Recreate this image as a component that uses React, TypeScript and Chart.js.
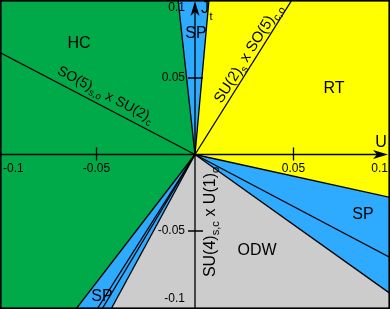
import React, { useEffect, useRef } from 'react';
import { Chart, registerables } from 'chart.js';

Chart.register(...registerables);

// axis ranges
const X_MIN = -0.099;
const X_MAX = 0.099;
const Y_MIN = -0.101;
const Y_MAX = 0.101;

// phase boundaries: rays from the origin, end points on the frame
const rayNames = ['hcLine', 'topGB', 'topBY', 'su2Line', 'rightYB', 'rightMid', 'rightBG', 'botBG', 'botIn2', 'botIn1', 'botGB'];
const rayEndX = [-0.099, -0.0086, 0.0071, 0.0492, 0.099, 0.099, 0.099, -0.0426, -0.0472, -0.0497, -0.0604];
const rayEndY = [0.0667, 0.101, 0.101, 0.101, -0.0281, -0.0673, -0.0908, -0.101, -0.101, -0.101, -0.101];

// tick values and labels
const xTickValues = [-0.1, -0.05, 0.05, 0.1];
const xTickLabels = ['-0.1', '-0.05', '0.05', '0.1'];
const yTickValues = [0.1, 0.05, -0.05, -0.1];
const yTickLabels = ['0.1', '0.05', '-0.05', '-0.1'];

// phase names and their anchor points (data coords)
const phaseNames = ['HC', 'SP', 'RT', 'SP', 'ODW', 'SP'];
const phaseX = [-0.0589, 0.0005, 0.0706, 0.0853, 0.0315, -0.0472];
const phaseY = [0.0722, 0.0788, 0.0428, -0.0395, -0.0631, -0.0931];

// symmetry line labels
const symLabelParts = [
  [['SO(5)', 0], ['s,o', 1], [' x SU(2)', 0], ['c', 1]],
  [['SU(2)', 0], ['s', 1], [' x SO(5)', 0], ['c,o', 1]],
  [['SU(4)', 0], ['s,c', 1], [' x U(1)', 0], ['o', 1]],
];
const symLabelX = [-0.0452, 0.0266, 0.0071];
const symLabelY = [0.0396, 0.0664, -0.0441];
const symLabelRay = ['hcLine', 'su2Line', 'negY'];
const symLabelSize = [14, 15, 16];

const GREEN = '#00AA48';
const BLUE = '#2EABFF';
const YELLOW = '#FFFF00';
const GRAY = '#CCCCCC';
const FONT = '"Liberation Sans", Arial, sans-serif';

function pt(name: string) {
  const i = rayNames.indexOf(name);
  return { x: rayEndX[i], y: rayEndY[i] };
}

const O = { x: 0, y: 0 };

function buildRegions() {
  return [
    { color: GREEN, pts: [O, pt('topGB'), { x: X_MIN, y: Y_MAX }, { x: X_MIN, y: Y_MIN }, pt('botGB')] },
    { color: BLUE, pts: [O, pt('topGB'), pt('topBY')] },
    { color: YELLOW, pts: [O, pt('topBY'), { x: X_MAX, y: Y_MAX }, pt('rightYB')] },
    { color: BLUE, pts: [O, pt('rightYB'), pt('rightBG')] },
    { color: GRAY, pts: [O, pt('rightBG'), { x: X_MAX, y: Y_MIN }, pt('botBG')] },
    { color: BLUE, pts: [O, pt('botBG'), pt('botGB')] },
  ];
}

function drawRich(ctx: CanvasRenderingContext2D, parts: any[], cx: number, cy: number, angle: number, size: number) {
  const subSize = size * 0.7;
  let total = 0;
  const widths: number[] = [];
  for (const [t, sub] of parts) {
    ctx.font = `${sub ? subSize : size}px ${FONT}`;
    const w = ctx.measureText(t).width;
    widths.push(w);
    total += w;
  }
  ctx.save();
  ctx.translate(cx, cy);
  ctx.rotate(angle);
  ctx.textBaseline = 'alphabetic';
  ctx.textAlign = 'left';
  let xx = -total / 2;
  const base = size * 0.35;
  parts.forEach(([t, sub]: any, i: number) => {
    ctx.font = `${sub ? subSize : size}px ${FONT}`;
    ctx.fillText(t, xx, sub ? base + size * 0.28 : base);
    xx += widths[i];
  });
  ctx.restore();
}

const overlayPlugin = {
  id: 'phaseOverlay',
  afterDatasetsDraw(chart: any) {
    const { ctx, chartArea, scales } = chart;
    const xs = scales.x;
    const ys = scales.y;
    const x0 = xs.getPixelForValue(0);
    const y0 = ys.getPixelForValue(0);
    const { left, right, top, bottom } = chartArea;
    ctx.save();
    ctx.strokeStyle = '#000';
    ctx.fillStyle = '#000';
    ctx.lineWidth = 1.3;
    // axes
    ctx.beginPath();
    ctx.moveTo(left, y0);
    ctx.lineTo(right - 6, y0);
    ctx.moveTo(x0, bottom);
    ctx.lineTo(x0, top + 6);
    ctx.stroke();
    // ticks
    ctx.beginPath();
    xTickValues.forEach((v) => {
      const px = xs.getPixelForValue(v);
      if (px > left + 2 && px < right - 2) {
        ctx.moveTo(px, y0 - 7);
        ctx.lineTo(px, y0 + 6);
      }
    });
    yTickValues.forEach((v) => {
      const py = ys.getPixelForValue(v);
      if (py > top + 2 && py < bottom - 2) {
        ctx.moveTo(x0 - 7, py);
        ctx.lineTo(x0 + 8, py);
      }
    });
    ctx.stroke();
    // arrows
    const arrow = (tx: number, ty: number, dx: number, dy: number) => {
      const L = 15, W = 4.5, N = 11;
      const nx = -dy, ny = dx;
      ctx.beginPath();
      ctx.moveTo(tx, ty);
      ctx.lineTo(tx - dx * L + nx * W, ty - dy * L + ny * W);
      ctx.lineTo(tx - dx * N, ty - dy * N);
      ctx.lineTo(tx - dx * L - nx * W, ty - dy * L - ny * W);
      ctx.closePath();
      ctx.fill();
    };
    arrow(right - 2, y0, 1, 0);
    arrow(x0, top + 1, 0, -1);
    // tick labels
    ctx.font = `12px ${FONT}`;
    ctx.textBaseline = 'middle';
    xTickValues.forEach((v, i) => {
      const px = xs.getPixelForValue(v);
      if (px < left + 15) {
        ctx.textAlign = 'left';
        ctx.fillText(xTickLabels[i], left + 3, y0 + 14);
      } else if (px > right - 15) {
        ctx.textAlign = 'right';
        ctx.fillText(xTickLabels[i], right - 2, y0 + 14);
      } else {
        ctx.textAlign = 'center';
        ctx.fillText(xTickLabels[i], px, y0 + 14);
      }
    });
    ctx.textAlign = 'right';
    yTickValues.forEach((v, i) => {
      let py = ys.getPixelForValue(v);
      py = Math.max(top + 8, Math.min(bottom - 10, py));
      ctx.fillText(yTickLabels[i], x0 - 10, py);
    });
    // axis titles
    ctx.textAlign = 'center';
    ctx.font = `16px ${FONT}`;
    ctx.fillText('U', right - 9, y0 - 12);
    ctx.fillText('J', x0 + 10, top + 9);
    ctx.font = `11px ${FONT}`;
    ctx.fillText('t', x0 + 16, top + 17);
    // phase names
    ctx.font = `16px ${FONT}`;
    phaseNames.forEach((n, i) => {
      ctx.fillText(n, xs.getPixelForValue(phaseX[i]), ys.getPixelForValue(phaseY[i]));
    });
    // symmetry labels
    symLabelParts.forEach((parts, i) => {
      const r = symLabelRay[i];
      let ang = -Math.PI / 2;
      if (r !== 'negY') {
        const p = pt(r);
        const dx = xs.getPixelForValue(p.x) - x0;
        const dy = ys.getPixelForValue(p.y) - y0;
        ang = Math.atan2(dy, dx);
        if (dx < 0) ang += Math.PI;
      }
      drawRich(ctx, parts, xs.getPixelForValue(symLabelX[i]), ys.getPixelForValue(symLabelY[i]), ang, symLabelSize[i]);
    });
    // frame
    ctx.lineWidth = 1.6;
    ctx.strokeRect(left + 0.8, top + 0.8, right - left - 1.6, bottom - top - 1.6);
    ctx.restore();
  },
};

export default function App() {
  const ref = useRef<HTMLCanvasElement | null>(null);
  useEffect(() => {
    if (!ref.current) return;
    const regions = buildRegions();
    const datasets: any[] = [];
    rayNames.forEach((n, i) => {
      datasets.push({
        data: [{ x: 0, y: 0 }, { x: rayEndX[i], y: rayEndY[i] }],
        borderColor: '#000',
        borderWidth: 1.3,
        fill: false,
        pointRadius: 0,
        tension: 0,
        order: 0,
      });
    });
    regions.forEach((r) => {
      datasets.push({
        data: r.pts.map((p) => ({ x: p.x, y: p.y })),
        backgroundColor: r.color,
        borderColor: 'rgba(0,0,0,0)',
        borderWidth: 1,
        fill: 'shape',
        pointRadius: 0,
        tension: 0,
        order: 1,
      });
    });
    const chart = new Chart(ref.current, {
      type: 'line',
      data: { datasets },
      options: {
        animation: false,
        responsive: true,
        maintainAspectRatio: false,
        layout: { padding: 0 },
        plugins: {
          legend: { display: false },
          tooltip: { enabled: false },
          title: { display: false },
          filler: { drawTime: 'beforeDatasetsDraw' },
        } as any,
        events: [],
        scales: {
          x: { type: 'linear', min: X_MIN, max: X_MAX, display: false },
          y: { type: 'linear', min: Y_MIN, max: Y_MAX, display: false },
        },
      },
      plugins: [overlayPlugin],
    });
    return () => chart.destroy();
  }, []);
  return (
    <div style={{ position: 'absolute', left: 0, top: 0, width: 390, height: 309, background: '#fff' }}>
      <canvas ref={ref} />
    </div>
  );
}
